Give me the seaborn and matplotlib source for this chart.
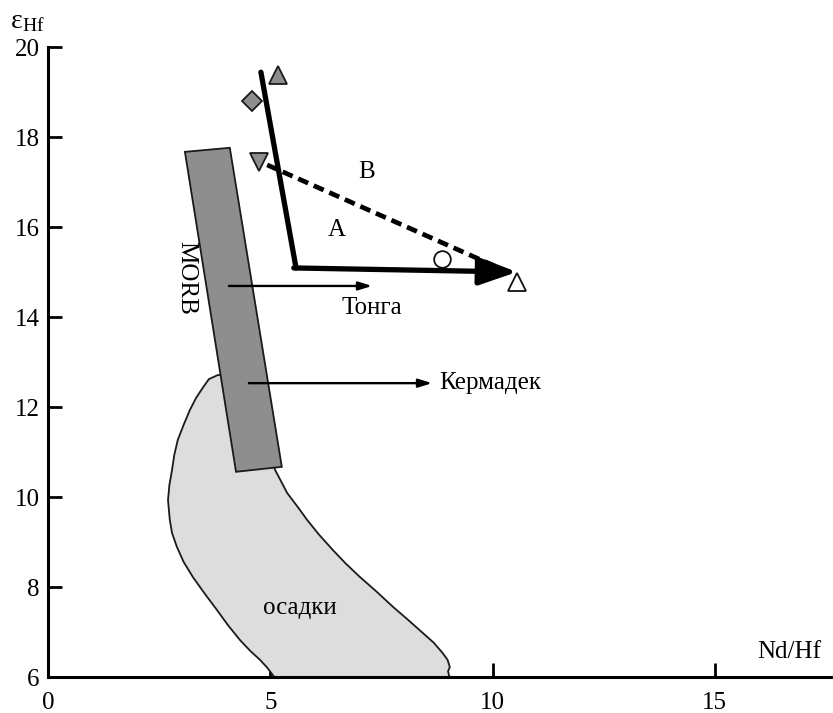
import matplotlib
matplotlib.use("Agg")
import matplotlib.pyplot as plt
from matplotlib.patches import Polygon
import seaborn as sns
import pandas as pd

# ---- data ----
morb_x = [3.08, 4.09, 5.26, 4.23]
morb_y = [17.67, 17.76, 10.67, 10.56]

sed_x = [3.82, 3.62, 3.49, 3.33, 3.19, 3.05, 2.92, 2.84, 2.79, 2.73, 2.70, 2.74, 2.79, 2.90, 3.05,
         3.26, 3.52, 3.80, 4.05, 4.32, 4.55, 4.77, 4.93, 5.06, 5.22, 9.15, 9.02, 9.00, 9.04, 8.99,
         8.88, 8.68, 8.43, 8.10, 7.76, 7.40, 7.02, 6.70, 6.41, 6.10, 5.83, 5.67, 5.38, 5.11, 4.66,
         4.21, 3.98]
sed_y = [12.71, 12.62, 12.44, 12.20, 11.93, 11.60, 11.27, 10.93, 10.60, 10.26, 9.93, 9.49, 9.20,
         8.89, 8.56, 8.22, 7.86, 7.49, 7.15, 6.82, 6.58, 6.38, 6.21, 6.04, 5.82, 5.82, 6.04, 6.13,
         6.22, 6.38, 6.53, 6.76, 6.98, 7.27, 7.56, 7.89, 8.22, 8.52, 8.82, 9.16, 9.49, 9.71, 10.09,
         10.60, 11.71, 12.49, 12.71]

pathA_x = [4.79, 5.58, 10.55]
pathA_y = [19.44, 15.09, 15.00]
pathB_x = [4.93, 10.1]
pathB_y = [17.38, 15.11]

pts_gray_x = [5.17, 4.59, 4.75]
pts_gray_y = [19.38, 18.80, 17.44]
pts_gray_m = ["^", "D", "v"]
pts_open_x = [8.86, 10.55]
pts_open_y = [15.29, 14.78]
pts_open_m = ["o", "^"]

tonga_x = [4.07, 7.29]
tonga_y = [14.69, 14.69]
kerm_x = [4.52, 8.64]
kerm_y = [12.53, 12.53]

xticks = [0, 5, 10, 15]
yticks = [6, 8, 10, 12, 14, 16, 18, 20]

sns.set_style("ticks")
plt.rcParams["font.family"] = ["Liberation Serif", "DejaVu Serif"]
plt.rcParams["mathtext.fontset"] = "stix"
for k in ["text.color", "axes.labelcolor", "xtick.color", "ytick.color", "axes.edgecolor"]:
    plt.rcParams[k] = "black"

fig = plt.figure(figsize=(8.33, 7.13), dpi=100)
ax = fig.add_axes([48 / 833, 36 / 713, 1 - 48 / 833, (677 - 47) / 713])

ax.add_patch(Polygon(list(zip(sed_x, sed_y)), closed=True, facecolor="#dddddd",
                     edgecolor="#1a1a1a", lw=1.3, zorder=1, joinstyle="round"))
ax.add_patch(Polygon(list(zip(morb_x, morb_y)), closed=True, facecolor="#8e8e8e",
                     edgecolor="#1a1a1a", lw=1.3, zorder=2))

dfA = pd.DataFrame({"x": pathA_x[:2], "y": pathA_y[:2]})
sns.lineplot(data=dfA, x="x", y="y", sort=False, color="black", lw=3.8, ax=ax, zorder=4)
ax.annotate("", xy=(pathA_x[2], pathA_y[2]), xytext=(pathA_x[1] - 0.05, pathA_y[1]),
            arrowprops=dict(arrowstyle="-|>,head_length=1.15,head_width=0.42", color="black",
                            lw=3.8, shrinkA=0, shrinkB=0, mutation_scale=20), zorder=4)
dfB = pd.DataFrame({"x": pathB_x, "y": pathB_y})
sns.lineplot(data=dfB, x="x", y="y", sort=False, color="black", lw=3.4, ax=ax, zorder=4,
             linestyle=(0, (2.3, 1.3)))

for x, y, m in zip(pts_gray_x, pts_gray_y, pts_gray_m):
    ax.plot([x], [y], marker=m, ms=13 if m != "D" else 10.5, mfc="#8e8e8e", mec="#1a1a1a",
            mew=1.3, ls="none", zorder=5)
for x, y, m in zip(pts_open_x, pts_open_y, pts_open_m):
    ax.plot([x], [y], marker=m, ms=13 if m == "^" else 12, mfc="white", mec="#111111",
            mew=1.3, ls="none", zorder=5)

for xs, ys in [(tonga_x, tonga_y), (kerm_x, kerm_y)]:
    ax.annotate("", xy=(xs[1], ys[1]), xytext=(xs[0], ys[0]),
                arrowprops=dict(arrowstyle="-|>,head_length=0.8,head_width=0.25", color="black",
                                lw=1.7, shrinkA=0, shrinkB=0), zorder=6)

fs = 18
ax.text(7.29, 14.2, "Тонга", fontsize=fs, ha="center", va="center")
ax.text(8.8, 12.53, "Кермадек", fontsize=fs, ha="left", va="center")
ax.text(7.17, 17.22, "B", fontsize=fs, ha="center", va="center")
ax.text(6.5, 15.93, "A", fontsize=fs, ha="center", va="center")
ax.text(3.10, 14.87, "MORB", fontsize=fs, ha="center", va="center", rotation=-90)
ax.text(5.67, 7.53, "осадки", fontsize=fs, ha="center", va="center")
ax.text(17.4, 6.56, "Nd/Hf", fontsize=fs, ha="right", va="center")
fig.text(10 / 833, 1 - 22 / 713, r"$\mathregular{\varepsilon}_{\mathregular{Hf}}$", fontsize=fs + 2,
         ha="left", va="center")

ax.set_xlim(0, 17.66)
ax.set_ylim(6, 20)
ax.set_xticks(xticks)
ax.set_yticks(yticks)
ax.set_xlabel("")
ax.set_ylabel("")
ax.tick_params(direction="in", length=10, width=2, labelsize=fs)
ax.tick_params(axis="x", pad=11)
ax.tick_params(axis="y", pad=6)
for s in ["top", "right"]:
    ax.spines[s].set_visible(False)
for s in ["left", "bottom"]:
    ax.spines[s].set_linewidth(2.2)
ax.patch.set_alpha(0)

fig.savefig("out.png", dpi=100)
